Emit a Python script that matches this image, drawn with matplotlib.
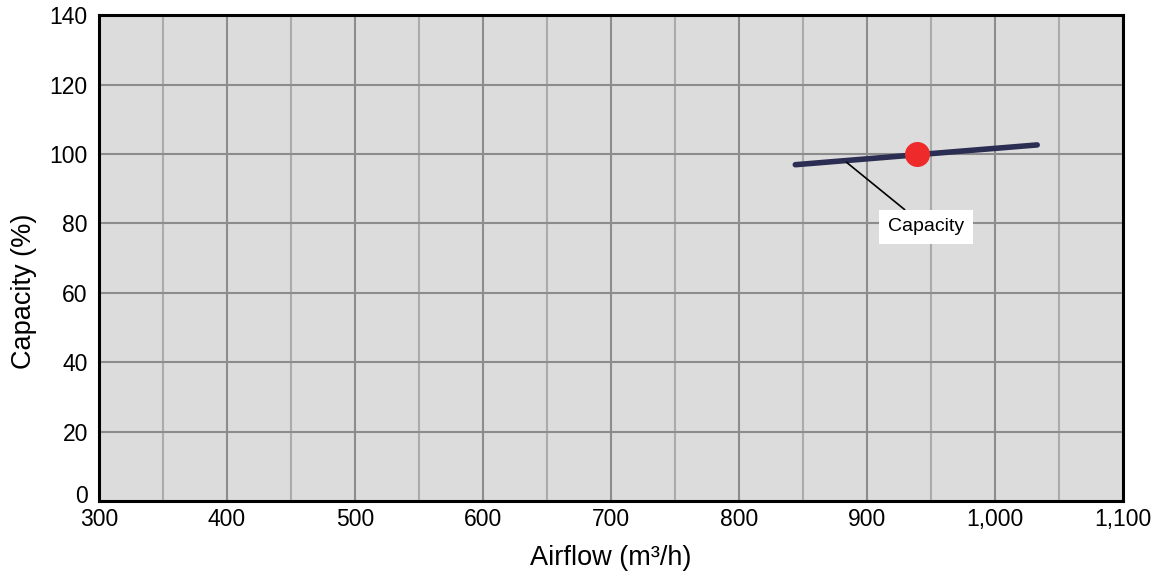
import matplotlib
matplotlib.use("Agg")
import matplotlib.pyplot as plt
import matplotlib.transforms as mtransforms
from matplotlib.ticker import MultipleLocator, FuncFormatter

plt.rcParams['font.family'] = ['Liberation Sans', 'DejaVu Sans']

airflow = [844, 1033]
capacity = [96.9, 102.6]
point_airflow = [939]
point_capacity = [100]
label_text = "Capacity"
label_xy = (946, 79)
label_anchor = (884, 97.6)

fig = plt.figure(figsize=(11.7, 5.8), dpi=100)
ax = fig.add_axes([0.0846, 0.136, 0.8752, 0.838])
ax.set_facecolor('#dcdcdc')
ax.set_xlim(300, 1100)
ax.set_ylim(0, 140)

ax.xaxis.set_major_locator(MultipleLocator(100))
ax.xaxis.set_minor_locator(MultipleLocator(50))
ax.yaxis.set_major_locator(MultipleLocator(20))
ax.xaxis.set_major_formatter(FuncFormatter(lambda v, p: f"{int(v):,}"))

ax.grid(True, which='major', axis='x', color='#8c8c8c', linewidth=1.5)
ax.grid(True, which='minor', axis='x', color='#ababab', linewidth=1.5)
ax.grid(True, which='major', axis='y', color='#8c8c8c', linewidth=1.5)
ax.set_axisbelow(True)

ax.tick_params(which='both', length=0, labelsize=16.5, colors='#000000')
ax.tick_params(axis='x', pad=5)
ax.tick_params(axis='y', pad=8)
for s in ax.spines.values():
    s.set_linewidth(2.2)
    s.set_color('#000000')

ax.plot(airflow, capacity, color='#2b2d52', linewidth=4, solid_capstyle='round', zorder=3)
ax.plot(point_airflow, point_capacity, 'o', color='#ee2a2a', markersize=17, zorder=4)

ax.annotate(label_text, xy=label_anchor, xytext=label_xy, ha='center', va='center',
            fontsize=14, color='#000000',
            bbox=dict(boxstyle='square,pad=0.45', fc='white', ec='none'),
            arrowprops=dict(arrowstyle='-', color='black', linewidth=1.2,
                            shrinkA=0, shrinkB=0),
            zorder=5)

ax.set_xlabel("Airflow (m\u00b3/h)", fontsize=19.5, labelpad=10)
ax.set_ylabel("Capacity (%)", fontsize=19.5)
ax.yaxis.set_label_coords(-0.061, 0.432)

fig.canvas.draw()
for lbl in ax.get_yticklabels():
    if lbl.get_text() == '0':
        lbl.set_transform(lbl.get_transform() +
                          mtransforms.ScaledTranslation(0, 7 / 100, fig.dpi_scale_trans))

fig.savefig("out.png", dpi=100)
